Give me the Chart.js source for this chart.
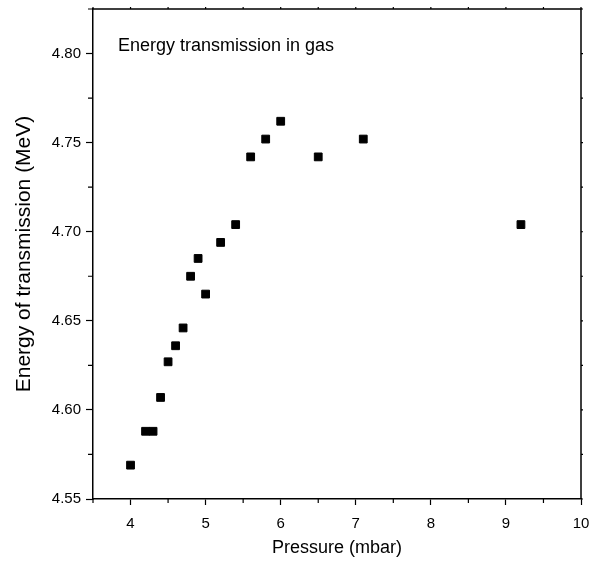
<!DOCTYPE html>
<html>
<head>
<meta charset="utf-8">
<script src="https://cdn.jsdelivr.net/npm/chart.js@4.4.0/dist/chart.umd.min.js"></script>
<style>
  html, body { margin: 0; padding: 0; background: #fff; }
  #wrap { width: 601px; height: 576px; }
</style>
</head>
<body>
<div id="wrap"><canvas id="graphique"></canvas></div>
<script>
// Pressure (mbar) vs energy of transmission (MeV)
const pressions = [4.0, 4.2, 4.3, 4.4, 4.5, 4.6, 4.7, 4.8, 4.9, 5.0, 5.2, 5.4, 5.6, 5.8, 6.0, 6.5, 7.1, 9.2];
const energies = [4.569, 4.588, 4.588, 4.607, 4.627, 4.636, 4.646, 4.675, 4.685, 4.665, 4.694, 4.704, 4.742, 4.752, 4.762, 4.742, 4.752, 4.704];

const titreX = 'Pressure (mbar)';
const titreY = 'Energy of transmission (MeV)';
const annotation = 'Energy transmission in gas';

const points = pressions.map((p, i) => ({ x: p, y: energies[i] }));

const estEntier = (v, pas) => Math.abs(v / pas - Math.round(v / pas)) < 1e-6;

// cadre + petites graduations
const cadrePlugin = {
  id: 'cadre',
  afterDraw(chart) {
    const { ctx, chartArea: a, scales } = chart;
    ctx.save();
    ctx.strokeStyle = '#000';
    ctx.lineWidth = 1.5;
    ctx.beginPath();
    ctx.moveTo(a.left, a.top);
    ctx.lineTo(a.right, a.top);
    ctx.lineTo(a.right, a.bottom);
    ctx.stroke();

    ctx.lineWidth = 1.2;
    ctx.beginPath();
    scales.x.ticks.forEach(t => {
      const px = scales.x.getPixelForValue(t.value);
      if (!estEntier(t.value, 1)) {
        ctx.moveTo(px, a.bottom);
        ctx.lineTo(px, a.bottom + 4);
      }
      ctx.moveTo(px, a.top);
      ctx.lineTo(px, a.top - 2);
    });
    scales.y.ticks.forEach(t => {
      const py = scales.y.getPixelForValue(t.value);
      if (!estEntier(t.value, 0.05)) {
        ctx.moveTo(a.left, py);
        ctx.lineTo(a.left - 5, py);
      }
      ctx.moveTo(a.right, py);
      ctx.lineTo(a.right + 2, py);
    });
    ctx.stroke();

    ctx.fillStyle = '#000';
    ctx.font = '18px "Liberation Sans", Arial, sans-serif';
    ctx.textBaseline = 'alphabetic';
    ctx.fillText(annotation, 118, 51);
    ctx.restore();
  }
};

new Chart(document.getElementById('graphique'), {
  type: 'scatter',
  data: {
    datasets: [{
      data: points,
      backgroundColor: '#000',
      borderColor: '#000',
      borderWidth: 1,
      pointStyle: 'rect',
      pointRadius: 5.5,
      pointHoverRadius: 5.5
    }]
  },
  options: {
    responsive: true,
    maintainAspectRatio: false,
    animation: false,
    layout: { padding: { top: 9, right: 20, left: 0, bottom: 0 } },
    plugins: {
      legend: { display: false },
      tooltip: { enabled: false }
    },
    scales: {
      x: {
        type: 'linear',
        min: 3.5,
        max: 10,
        afterFit: (scale) => { scale.height = 77; scale.paddingLeft = 0; scale.paddingRight = 0; },
        border: { color: '#000', width: 1.5 },
        grid: {
          drawOnChartArea: false,
          tickLength: 6,
          tickWidth: 1.2,
          tickColor: (c) => (c.tick && estEntier(c.tick.value, 1)) ? '#000' : 'rgba(0,0,0,0)'
        },
        ticks: {
          stepSize: 0.5,
          maxRotation: 0,
          autoSkip: false,
          padding: 10,
          color: '#000',
          font: { family: '"Liberation Sans", Arial, sans-serif', size: 15 },
          callback: (v) => estEntier(v, 1) ? String(Math.round(v)) : ''
        },
        title: {
          display: true,
          text: titreX,
          color: '#000',
          font: { family: '"Liberation Sans", Arial, sans-serif', size: 18 },
          padding: { top: 0, bottom: 17 }
        }
      },
      y: {
        type: 'linear',
        min: 4.55,
        max: 4.825,
        afterFit: (scale) => { scale.width = 93; scale.paddingTop = 0; scale.paddingBottom = 0; },
        border: { color: '#000', width: 1.5 },
        grid: {
          drawOnChartArea: false,
          tickLength: 7,
          tickWidth: 1.2,
          tickColor: (c) => (c.tick && estEntier(c.tick.value, 0.05)) ? '#000' : 'rgba(0,0,0,0)'
        },
        ticks: {
          stepSize: 0.025,
          autoSkip: false,
          padding: 5,
          color: '#000',
          font: { family: '"Liberation Sans", Arial, sans-serif', size: 15 },
          callback: (v) => estEntier(v, 0.05) ? v.toFixed(2) : ''
        },
        title: {
          display: true,
          text: titreY,
          color: '#000',
          font: { family: '"Liberation Sans", Arial, sans-serif', size: 21 },
          padding: { top: 12, bottom: 0 }
        }
      }
    }
  },
  plugins: [cadrePlugin]
});
</script>
</body>
</html>
